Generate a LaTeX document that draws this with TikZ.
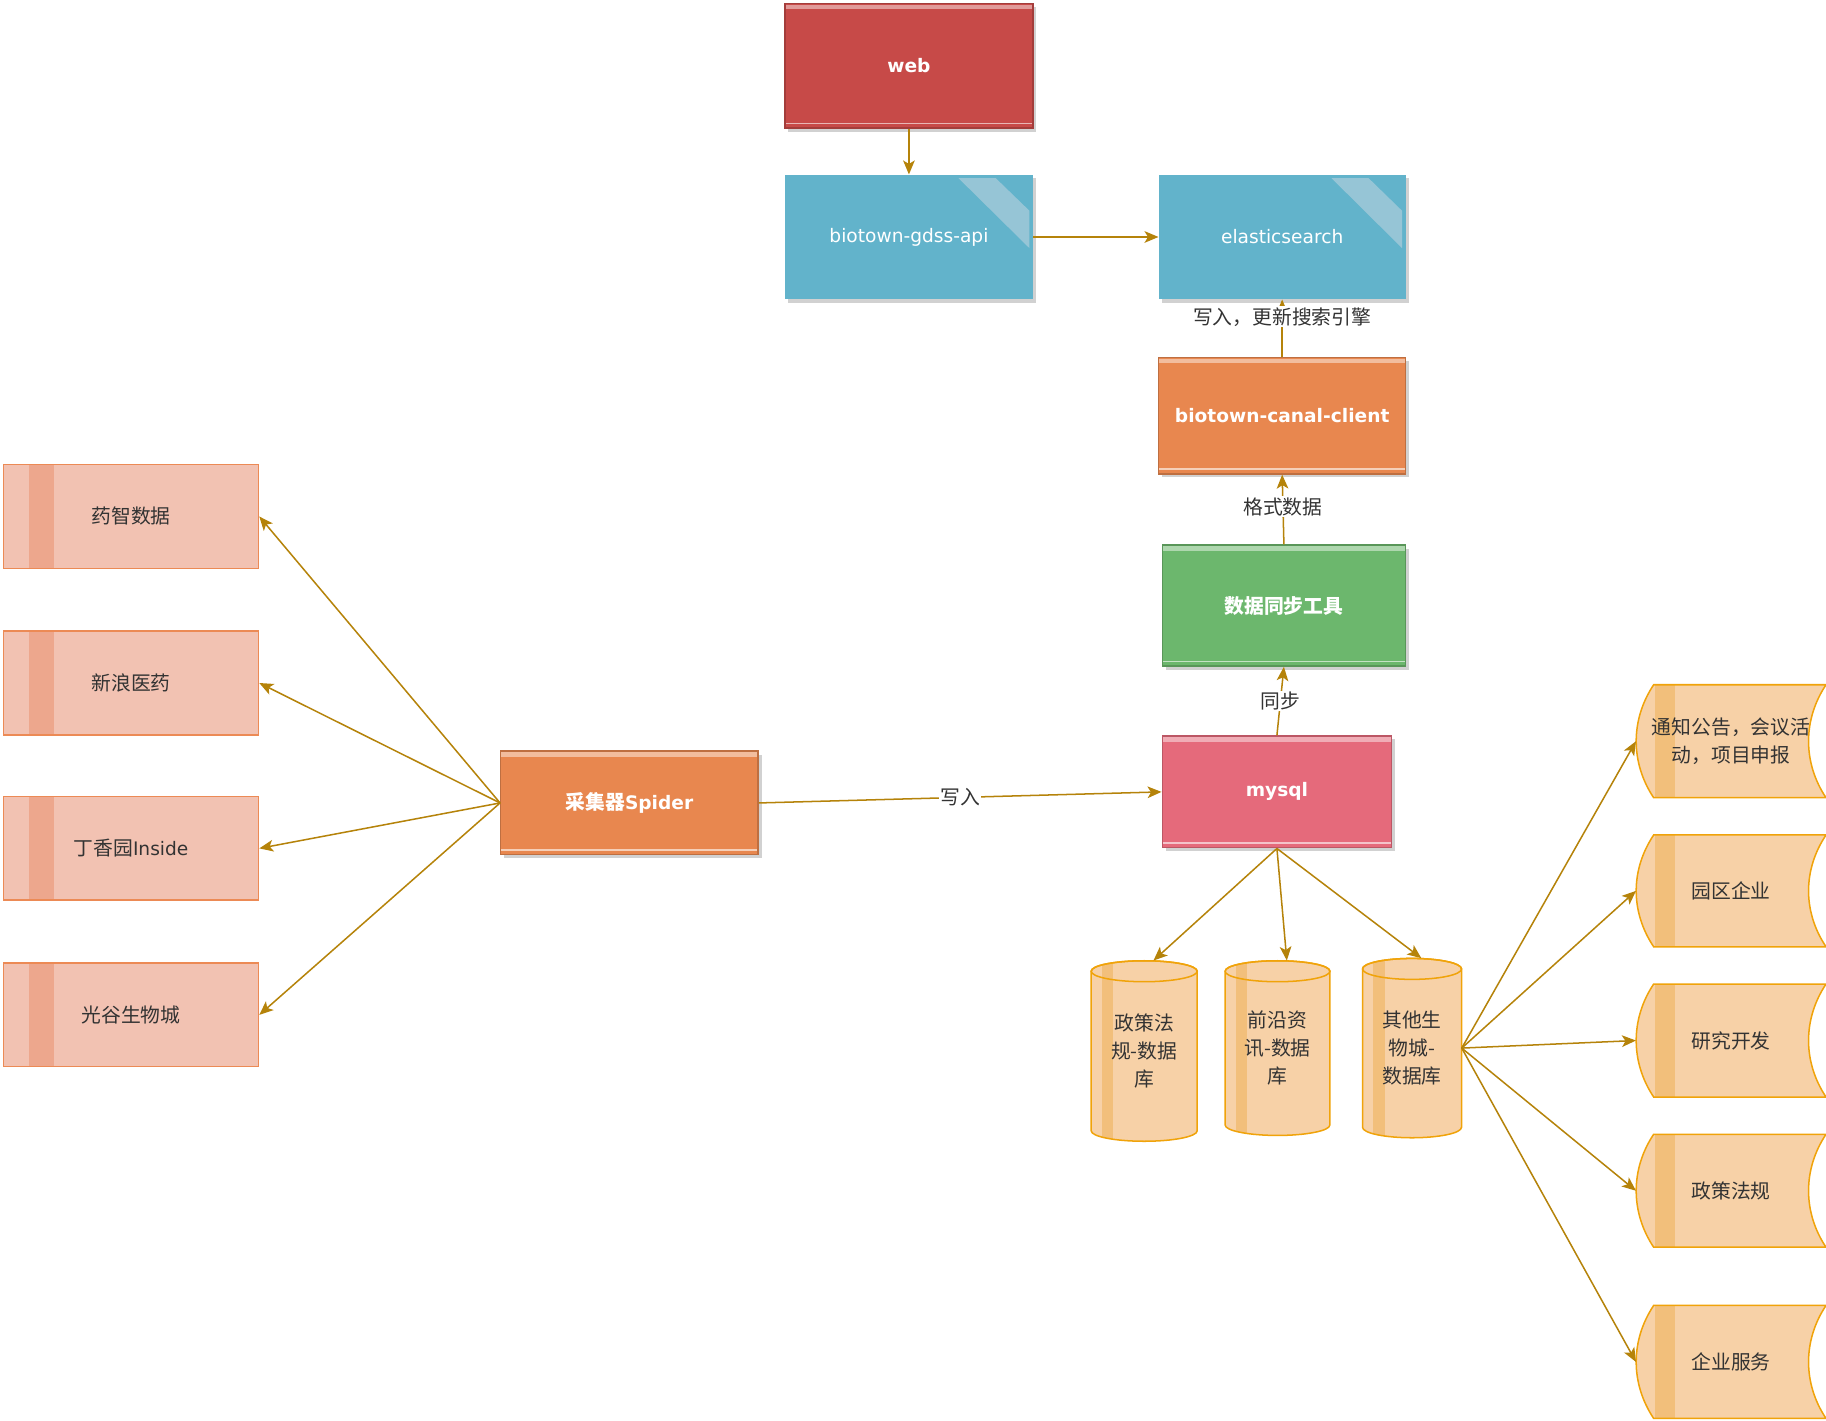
\documentclass[tikz,border=0pt]{standalone}
\usepackage{fontspec}
\setmainfont{Noto Sans CJK SC}
\newfontfamily\lat{DejaVu Sans}[Scale=0.94]
\usetikzlibrary{arrows.meta,shadows,calc}

\definecolor{txtgray}{HTML}{333333}
\definecolor{linkgold}{HTML}{B5830A}
\definecolor{webred}{HTML}{C74A48}
\definecolor{esblue}{HTML}{62B3CB}
\definecolor{eshl}{HTML}{96C5D6}
\definecolor{canalorange}{HTML}{E8874F}
\definecolor{syncgreen}{HTML}{6CB76D}
\definecolor{mysqlpink}{HTML}{E56A7B}
\definecolor{srcfill}{HTML}{F2C2B2}
\definecolor{srcline}{HTML}{EC8A55}
\definecolor{srcstripe}{HTML}{EDA78D}
\definecolor{dbfill}{HTML}{F7D1A7}
\definecolor{dbline}{HTML}{F0A30A}
\definecolor{dbstripe}{HTML}{F2BF7B}

\begin{document}
\begin{tikzpicture}
[
    x = 1pt, y = -1pt,
    font = \fontsize{17}{24}\selectfont,
    every node/.style = {text = txtgray, align = center},
    link/.style = {draw = linkgold, line width = 1.3pt, -{Stealth[length = 12pt, width = 10pt, inset = 3pt]}},
    tag/.style = {fill = white, inner sep = 1pt},
    lift/.style = {drop shadow = {shadow xshift = 3pt, shadow yshift = -3pt, fill = black!18, opacity = 1}},
    box/.style = {rectangle, minimum width = 213pt, minimum height = 107pt, inner sep = 0pt,
        text = white, font = \fontsize{17}{24}\selectfont\bfseries},
    glass/.style = {lift, fill = #1, draw = #1!82!black, line width = 1.2pt,
        path picture = {
            \fill[white, opacity = .45] ([yshift = -1pt]path picture bounding box.north west) rectangle ([yshift = -5pt]path picture bounding box.north east);
            \draw[white, opacity = .6, line width = 1.5pt] ([yshift = 4pt]path picture bounding box.south west) -- ([yshift = 4pt]path picture bounding box.south east);
        }},
    bluebox/.style = {box, lift, fill = esblue, font = \fontsize{17}{24}\selectfont\mdseries,
        path picture = {
            \fill[eshl] ($(path picture bounding box.north west)!.70!(path picture bounding box.north east) + (0,3)$)
                -- ($(path picture bounding box.north west)!.85!(path picture bounding box.north east) + (0,3)$)
                -- ($(path picture bounding box.north east)!.29!(path picture bounding box.south east) + (-3,0)$)
                -- ($(path picture bounding box.north east)!.59!(path picture bounding box.south east) + (-3,0)$) -- cycle;
        }},
    srcbox/.style = {rectangle, minimum width = 219pt, minimum height = 89pt, fill = srcfill, draw = srcline, line width = 1.3pt,
        path picture = {
            \fill[srcstripe] ([xshift = 22pt]path picture bounding box.north west) rectangle ([xshift = 43pt]path picture bounding box.south west);
        }},
    dbshape/.style = {fill = dbfill, draw = dbline, line width = 1.3pt},
]
\useasboundingbox (0,0) rectangle (1568,1219.4);

\node[box, glass = webred] (web) at (780.5, 56.5) {\lat web};
\node[bluebox] (api) at (780.5, 203.5) {\lat biotown-gdss-api};
\node[bluebox, minimum width = 212pt] (es) at (1101, 203.5) {\lat elasticsearch};
\node[box, glass = canalorange, minimum width = 212pt, minimum height = 100pt] (canal) at (1101, 357) {\lat biotown-canal-client};
\node[box, glass = syncgreen, minimum width = 209pt, minimum height = 104pt] (sync) at (1102.5, 520) {数据同步工具};
\node[box, glass = mysqlpink, minimum width = 197pt, minimum height = 96pt] (mysql) at (1096.5, 680) {\lat mysql};
\node[box, glass = canalorange, minimum width = 221pt, minimum height = 89pt] (spider) at (540.5, 689.5) {采集器{\lat Spider}};

\foreach \n/\y/\txt in {yz/443.5/药智数据, xl/586.5/新浪医药, dxy/728.5/{丁香园{\lat Inside}}, gg/871.5/光谷生物城}
{
    \node[srcbox] (\n) at (112.5, \y) {\txt};
    \draw[link] (spider.west) -- (\n.east);
}

\foreach \n/\cx/\t/\b/\a/\txt in {db1/982.5/825/980/45.5/{政策法\\规-数据\\库}, db2/1097/825/975/45/{前沿资\\讯-数据\\库}, db3/1212.5/823/977/42.5/{其他生\\物城-\\数据库}}
{
    \path[dbshape, path picture = {\fill[dbstripe] (\cx-\a+9, \t) rectangle (\cx-\a+19, \b);}]
        (\cx-\a, \t+9) -- (\cx-\a, \b-9) arc[start angle = 180, end angle = 360, x radius = \a pt, y radius = 9pt]
        -- (\cx+\a, \t+9) arc[start angle = 0, end angle = 180, x radius = \a pt, y radius = 9pt] -- cycle;
    \draw[dbshape, fill = none] (\cx, \t+9) ellipse[x radius = \a pt, y radius = 9pt];
    \node[minimum width = {2*\a*1pt}, minimum height = {(\b-\t)*1pt}, inner sep = 0pt] (\n) at (\cx, {(\t+\b)/2}) {\txt};
    \draw[link] (mysql.south) -- ([xshift = 8pt]\n.north);
}

\foreach \n/\t/\b/\txt in {t1/588/685/{通知公告，会议活\\动，项目申报}, t2/717/813/园区企业, t3/845/942/研究开发, t4/974/1071/政策法规, t5/1121/1218/企业服务}
{
    \path[dbshape, path picture = {\fill[dbstripe] (1421, \t) rectangle (1438, \b);}]
        (1420, \t) -- (1568, \t) .. controls (1548, \t+30) and (1548, \b-30) .. (1568, \b)
        -- (1420, \b) .. controls (1400, \b-30) and (1400, \t+30) .. (1420, \t) -- cycle;
    \node[minimum width = 163pt, minimum height = {(\b-\t)*1pt}, inner sep = 0pt] (\n) at (1486.5, {(\t+\b)/2}) {\txt};
    \draw[link] (db3.east) -- (\n.west);
}

\draw[link] (web.south) -- (api.north);
\draw[link] (api.east) -- (es.west);
\draw[link] (canal.north) -- (es.south) node[tag, pos = .7] {写入，更新搜索引擎};
\draw[link] (sync.north) -- (canal.south) node[tag, pos = .54] {格式数据};
\draw[link] (mysql.north) -- (sync.south) node[tag, midway] {同步};
\draw[link] (spider.east) -- (mysql.west) node[tag, midway] {写入};
\end{tikzpicture}
\end{document}
